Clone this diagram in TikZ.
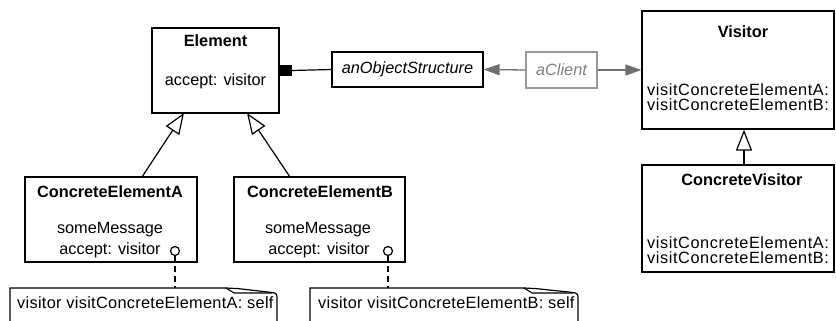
\documentclass[tikz,border=0pt]{standalone}
\usepackage{fontspec}
\setmainfont{Liberation Sans}
\usetikzlibrary{arrows.meta}
\definecolor{arrowgray}{HTML}{707070}
\definecolor{clientgray}{HTML}{999999}
\definecolor{clienttext}{HTML}{808080}
\begin{document}
\begin{tikzpicture}[x=1pt,y=-1pt,
  box/.style={draw, line width=1.2pt, inner sep=0pt, fill=white},
  txt/.style={inner sep=0pt, font=\fontsize{16.3}{19}\selectfont},
  wtxt/.style={inner sep=0pt, font=\fontsize{16.3}{19}\selectfont\addfontfeature{LetterSpace=3.6}},
  ntxt/.style={inner sep=0pt, font=\fontsize{16.3}{19}\selectfont\addfontfeature{LetterSpace=1.9}},
  btxt/.style={inner sep=0pt, font=\fontsize{16.3}{19}\selectfont\bfseries},
  itxt/.style={inner sep=0pt, font=\fontsize{16.3}{19}\selectfont\itshape},
  gen/.style={line width=1.2pt, -{Triangle[open, length=21pt, width=16pt, fill=white, line width=1.2pt]}},
  callarrow/.style={draw=arrowgray, line width=1.3pt, -{Triangle[length=16pt, width=11pt, fill=arrowgray]}},
  notebox/.style={draw, line width=1.2pt, fill=white},
  pin/.style={circle, draw, line width=1.2pt, fill=white, minimum size=9pt, inner sep=0pt},
  dashline/.style={line width=1.2pt, dash pattern=on 6pt off 4pt},
  agg/.style={fill, inner sep=0pt, minimum width=12pt, minimum height=11pt}
]
\clip (0,0) rectangle (836,321);
\fill[white] (0,0) rectangle (836,321);

% Element
\node[box, minimum width=127pt, minimum height=85pt] (elem) at (215.5,70.5) {};
\node[btxt] (elemT) at (215.5,41) {Element};
\node[txt] (elemM) at (215.5,81) {accept: visitor};
\node[agg, anchor=west] (sq) at (elem.east) {};

% anObjectStructure
\node[box, minimum width=151pt, minimum height=35pt, itxt] (aos) at (407.5,69.5) {anObjectStructure};

% aClient
\node[draw=clientgray, line width=1.1pt, fill=white, inner sep=0pt, minimum width=71pt, minimum height=36pt, itxt, text=clienttext] (client) at (561.5,70) {aClient};

% Visitor
\node[box, minimum width=192pt, minimum height=118pt] (vis) at (738,70) {};
\node[btxt] (visT) at (743,32) {Visitor};
\node[wtxt, anchor=west] (visA) at (647,90) {visitConcreteElementA:};
\node[wtxt, anchor=west] (visB) at (647,105) {visitConcreteElementB:};

% ConcreteVisitor
\node[box, minimum width=192pt, minimum height=107pt] (cv) at (738,218.5) {};
\node[btxt] (cvT) at (742,180) {ConcreteVisitor};
\node[wtxt, anchor=west] (cvA) at (647,243) {visitConcreteElementA:};
\node[wtxt, anchor=west] (cvB) at (647,258) {visitConcreteElementB:};

% ConcreteElementA
\node[box, minimum width=172pt, minimum height=85pt] (cea) at (111,219.5) {};
\node[btxt] (ceaT) at (110,192) {ConcreteElementA};
\node[txt] (ceaS) at (110,230) {someMessage};
\node[txt] (ceaM) at (110,250) {accept: visitor};
\node[pin] (pinA) at (175,251) {};

% ConcreteElementB
\node[box, minimum width=171pt, minimum height=85pt] (ceb) at (319.5,219.5) {};
\node[btxt] (cebT) at (320,192) {ConcreteElementB};
\node[txt] (cebS) at (318,230) {someMessage};
\node[txt] (cebM) at (319,250) {accept: visitor};
\node[pin] (pinB) at (388,251) {};

% Notes
\draw[notebox] (10,330) -- (10,288) -- (226,288) -- (238,288.6) -- (272,292.5)
  .. controls (276,293) and (277,294) .. (277,298) -- (277,330);
\draw[line width=1.1pt] (226,288) -- (234,293) -- (272,293);
\coordinate (noteA) at (175,288);
\node[ntxt, anchor=west] (noteAT) at (17,303) {visitor visitConcreteElementA: self};

\draw[notebox] (310,330) -- (310,288) -- (524,288) -- (536,288.6) -- (573,292.5)
  .. controls (577,293) and (578,294) .. (578,298) -- (578,330);
\draw[line width=1.1pt] (524,288) -- (532,293) -- (573,293);
\coordinate (noteB) at (388,288);
\node[ntxt, anchor=west] (noteBT) at (318,303) {visitor visitConcreteElementB: self};

% dashed note links
\draw[dashline] (pinA.south) -- (noteA);
\draw[dashline] (pinB.south) -- (noteB);

% generalizations
\coordinate (ceaTop) at (142,177);
\coordinate (elemTipA) at (184,113);
\coordinate (cebTop) at (290,177);
\coordinate (elemTipB) at (247,113);
\draw[gen] (ceaTop) -- (elemTipA);
\draw[gen] (cebTop) -- (elemTipB);
\draw[gen] (cv.north -| 744,0) -- (vis.south -| 744,0);

% aggregation
\draw[line width=1.2pt] (aos.west) -- (sq.east);

% client arrows
\draw[callarrow] (client.west) -- (aos.east);
\draw[callarrow] (client.east) -- (vis.west);
\end{tikzpicture}
\end{document}
